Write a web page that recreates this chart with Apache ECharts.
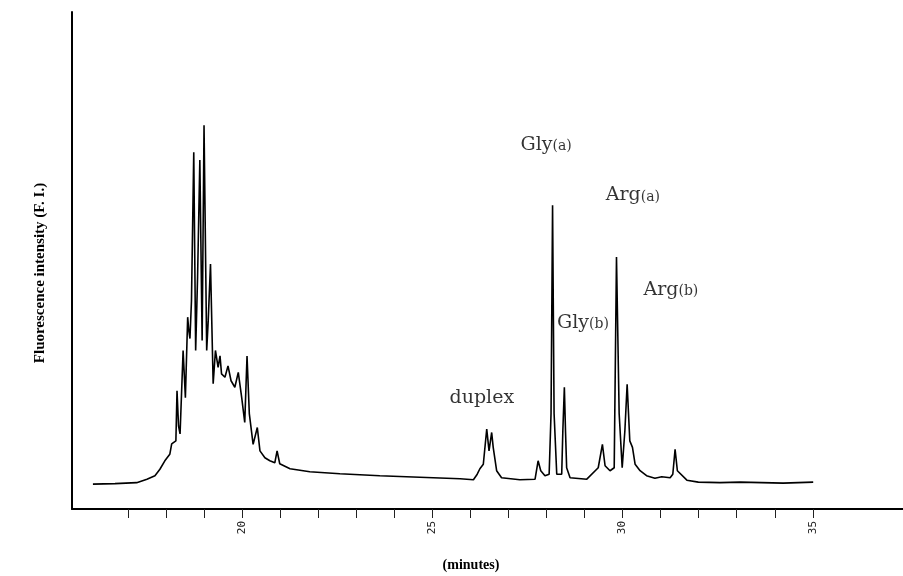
<!DOCTYPE html>
<html>
<head>
<meta charset="utf-8">
<title>Chromatogram</title>
<script src="https://cdn.jsdelivr.net/npm/echarts@6/dist/echarts.min.js"></script>
<style>
  html, body { margin: 0; padding: 0; background: #fff; }
  #main { width: 903px; height: 576px; }
</style>
</head>
<body>
<div id="main"></div>
<script>
// retention time (minutes)
var times = [
  16.08, 16.66, 17.23, 17.50, 17.71, 17.84, 17.97, 18.10, 18.15, 18.26,
  18.29, 18.33, 18.37, 18.45, 18.51, 18.57, 18.60, 18.63, 18.67, 18.73,
  18.78, 18.83, 18.89, 18.95, 19.00, 19.07, 19.11, 19.17, 19.24, 19.30,
  19.37, 19.42, 19.46, 19.55, 19.63, 19.71, 19.81, 19.90, 19.99, 20.07,
  20.13, 20.19, 20.29, 20.40, 20.47, 20.60, 20.73, 20.86, 20.92, 20.99,
  21.26, 21.78, 22.57, 23.62, 24.67, 25.73, 26.08, 26.18, 26.25, 26.30,
  26.34, 26.43, 26.49, 26.56, 26.60, 26.69, 26.82, 27.30, 27.70, 27.78,
  27.85, 27.96, 28.07, 28.12, 28.16, 28.20, 28.27, 28.40, 28.43, 28.47,
  28.50, 28.53, 28.62, 29.06, 29.36, 29.47, 29.54, 29.67, 29.78, 29.84,
  29.91, 29.99, 30.06, 30.12, 30.19, 30.26, 30.33, 30.46, 30.63, 30.85,
  31.03, 31.25, 31.32, 31.38, 31.44, 31.69, 31.99, 32.56, 33.09, 34.22,
  35.01
];
// fluorescence intensity (arbitrary units, axis top = 100)
var intensity = [
  5.0, 5.1, 5.3, 6.0, 6.7, 8.0, 9.7, 11.0, 13.1, 13.7,
  23.8, 16.7, 15.1, 31.9, 22.4, 38.6, 35.9, 34.3, 41.9, 71.8,
  31.9, 46.6, 70.2, 33.9, 77.2, 31.9, 37.9, 49.3, 25.2, 31.9,
  28.5, 30.8, 27.2, 26.5, 28.8, 25.8, 24.5, 27.5, 22.4, 17.4,
  30.8, 19.2, 13.0, 16.4, 11.7, 10.3, 9.7, 9.3, 11.7, 9.1,
  8.1, 7.5, 7.1, 6.7, 6.4, 6.1, 5.9, 7.0, 8.1, 8.5,
  9.0, 16.1, 11.7, 15.4, 12.4, 7.7, 6.3, 5.9, 6.0, 9.7,
  7.7, 6.7, 7.0, 19.2, 61.1, 19.2, 7.0, 7.0, 15.7, 24.5,
  15.7, 8.3, 6.3, 6.0, 8.3, 13.0, 8.7, 7.7, 8.3, 50.7,
  19.2, 8.3, 15.7, 25.1, 13.7, 12.4, 9.0, 7.7, 6.7, 6.2,
  6.5, 6.3, 7.0, 12.0, 7.7, 5.8, 5.4, 5.3, 5.4, 5.2,
  5.4
];

var tickValues = [17, 18, 19, 20, 21, 22, 23, 24, 25, 26, 27, 28, 29, 30, 31, 32, 33, 34, 35];
var labelValues = [20, 25, 30, 35];

// peak annotations (text centred on these data coordinates)
var annotLabels = ['Gly(a)', 'Arg(a)', 'Arg(b)', 'Gly(b)', 'duplex'];
var annotTimes = [27.99, 30.27, 31.27, 28.96, 26.30];
var annotLevels = [73.2, 63.1, 44.0, 37.5, 22.4];

var serif = '"Liberation Serif", "DejaVu Serif", serif';
var wideSerif = '"DejaVu Serif", serif';

var trace = times.map(function (t, i) { return [t, intensity[i]]; });
var annots = annotLabels.map(function (s, i) {
  return { value: [annotTimes[i], annotLevels[i]], name: s };
});

var chart = echarts.init(document.getElementById('main'));
var option = {
  backgroundColor: '#ffffff',
  animation: false,
  grid: { left: 72, right: 0, top: 12, bottom: 67 },
  xAxis: {
    type: 'value',
    min: 15.53,
    max: 37.37,
    splitLine: { show: false },
    axisLine: { show: true, lineStyle: { color: '#000', width: 2 } },
    axisTick: { show: true, customValues: tickValues, length: 9, lineStyle: { color: '#222', width: 1 } },
    axisLabel: {
      show: true,
      customValues: labelValues,
      rotate: 90,
      margin: 12,
      fontSize: 11,
      fontFamily: '"DejaVu Sans Mono", monospace',
      color: '#222'
    }
  },
  yAxis: {
    type: 'value',
    min: 0,
    max: 100,
    splitLine: { show: false },
    axisLine: { show: true, lineStyle: { color: '#000', width: 2 } },
    axisTick: { show: false },
    axisLabel: { show: false }
  },
  series: [
    {
      type: 'line',
      data: trace,
      symbol: 'none',
      lineStyle: { color: '#000', width: 1.6 },
      z: 3
    },
    {
      // labels over the peaks
      type: 'scatter',
      data: annots,
      symbolSize: 1,
      itemStyle: { color: 'rgba(0,0,0,0)' },
      label: {
        show: true,
        position: 'inside',
        formatter: function (p) {
          var m = p.name.match(/^(\w+)(\(.\))?$/);
          if (m && m[2]) return '{m|' + m[1] + '}{s|' + m[2] + '}';
          return '{m|' + p.name + '}';
        },
        rich: {
          m: { fontSize: 19, fontFamily: wideSerif, color: '#000' },
          s: { fontSize: 14, fontFamily: wideSerif, color: '#000', padding: [3, 0, 0, 0] }
        }
      },
      silent: true,
      z: 4
    }
  ],
  graphic: [
    {
      type: 'text',
      x: 40,
      y: 273,
      rotation: Math.PI / 2,
      style: {
        text: 'Fluorescence intensity (F. I.)',
        font: 'bold 15px ' + serif,
        fill: '#000',
        align: 'center',
        verticalAlign: 'middle'
      }
    },
    {
      type: 'text',
      x: 471,
      y: 565,
      style: {
        text: '(minutes)',
        font: 'bold 14px ' + serif,
        fill: '#000',
        align: 'center',
        verticalAlign: 'middle'
      }
    }
  ]
};
chart.setOption(option);
</script>
</body>
</html>
